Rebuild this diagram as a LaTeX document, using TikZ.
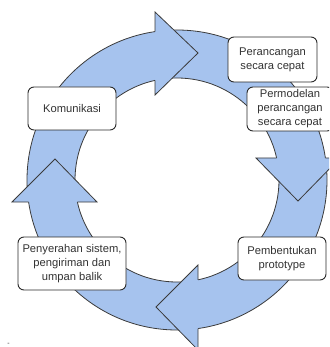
\documentclass[tikz,border=0pt]{standalone}
\usepackage{fontspec}
\setmainfont{Liberation Sans}
\definecolor{ringblue}{HTML}{A6C3EE}
\definecolor{edgegray}{HTML}{3A3A3A}
\definecolor{boxgray}{HTML}{2A2A2A}
\definecolor{textgray}{HTML}{333333}
\begin{document}
\begin{tikzpicture}[x=1pt,y=-1pt,
  edge/.style={draw=edgegray,line width=0.8pt,line join=miter},
  head/.style={fill=ringblue},
  box/.style={draw=boxgray,line width=0.9pt,fill=white,rounded corners=6pt,
    align=center,inner sep=0pt,text=textgray,
    font=\fontsize{11.2}{14}\selectfont}]
\useasboundingbox (0,0) rectangle (329,347);
\clip (0,0) rectangle (329,347);
\coordinate (C) at (177,180);
% ring
\fill[ringblue,even odd rule] (C) circle[radius=150] (C) circle[radius=102];
\draw[edge] (C) circle[radius=150];
\draw[edge] (C) circle[radius=102];
% top head
\coordinate (t1) at (155,12);
\coordinate (t2) at (155,95);
\coordinate (tt) at (198,53);
\coordinate (to) at (155,31.6);
\coordinate (ti) at (155,80.4);
\fill[head] (t1) -- (tt) -- (t2) -- cycle;
\draw[edge] (to) -- (t1) -- (tt) -- (t2) -- (ti);
% right head
\coordinate (r1) at (256,158);
\coordinate (r2) at (340,158);
\coordinate (rt) at (298,201);
\coordinate (ri) at (276.6,158);
\coordinate (ro) at (325.4,158);
\fill[head] (r1) -- (rt) -- (r2) -- cycle;
\draw[edge] (ri) -- (r1) -- (rt) -- (r2) -- (ro);
% bottom head
\coordinate (b1) at (198,265);
\coordinate (b2) at (198,350);
\coordinate (bt) at (156,307);
\coordinate (bi) at (198,279.8);
\coordinate (bo) at (198,328.5);
\fill[head] (b1) -- (bt) -- (b2) -- cycle;
\draw[edge] (bi) -- (b1) -- (bt) -- (b2) -- (bo);
% left head
\coordinate (l1) at (12,202);
\coordinate (l2) at (97,202);
\coordinate (lt) at (55,159);
\coordinate (lo) at (28.6,202);
\coordinate (li) at (77.4,202);
\fill[head] (l1) -- (lt) -- (l2) -- cycle;
\draw[edge] (lo) -- (l1) -- (lt) -- (l2) -- (li);
% boxes
\node[box,minimum width=89pt,minimum height=45pt] (p1) at (272.5,59.5) {Perancangan\\secara cepat};
\node[box,minimum width=86pt,minimum height=44pt] (p2) at (290,109) {Permodelan\\perancangan\\secara cepat};
\node[box,minimum width=88pt,minimum height=43pt] (p3) at (72,108.5) {Komunikasi};
\node[box,minimum width=88pt,minimum height=43pt] (p4) at (282,258.5) {Pembentukan\\prototype};
\node[box,minimum width=108pt,minimum height=53pt] (p5) at (72,263.5) {Penyerahan sistem,\\pengiriman dan\\umpan balik};
\node[inner sep=0pt,text=textgray,font=\fontsize{7}{7}\selectfont] (dash) at (8.5,344) {-};
\end{tikzpicture}
\end{document}
